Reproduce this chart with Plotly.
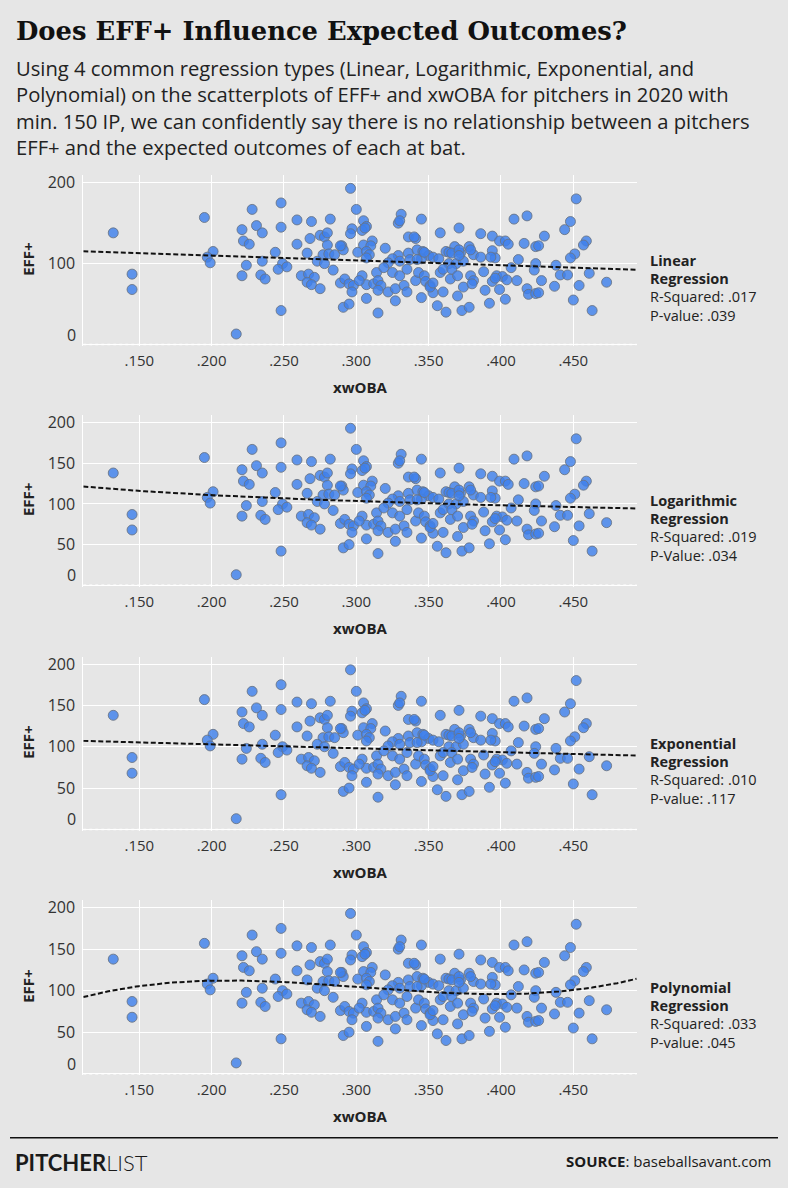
import numpy as np
import plotly.graph_objects as go

# ---------------- data ----------------
XWOBA = [0.132, 0.145, 0.145, 0.195, 0.201, 0.197, 0.199, 0.217, 0.221, 0.228,
         0.231, 0.235, 0.222, 0.226, 0.224, 0.221, 0.234, 0.237, 0.235, 0.248,
         0.248, 0.244, 0.249, 0.246, 0.252, 0.248, 0.259, 0.269, 0.282, 0.268,
         0.259, 0.266, 0.275, 0.278, 0.280, 0.280, 0.277, 0.281, 0.285, 0.290,
         0.291, 0.289, 0.273, 0.278, 0.284, 0.262, 0.267, 0.271, 0.266, 0.269,
         0.275, 0.289, 0.291, 0.295, 0.296, 0.300, 0.305, 0.307, 0.297, 0.296,
         0.304, 0.306, 0.311, 0.305, 0.310, 0.301, 0.307, 0.309, 0.307, 0.320,
         0.331, 0.329, 0.330, 0.345, 0.336, 0.341, 0.340, 0.358, 0.371, 0.329,
         0.336, 0.342, 0.346, 0.350, 0.353, 0.357, 0.362, 0.364, 0.368, 0.372,
         0.378, 0.381, 0.325, 0.322, 0.337, 0.345, 0.364, 0.369, 0.374, 0.292,
         0.295, 0.298, 0.297, 0.304, 0.307, 0.312, 0.314, 0.315, 0.317, 0.315,
         0.319, 0.325, 0.322, 0.327, 0.327, 0.330, 0.333, 0.335, 0.335, 0.341,
         0.343, 0.347, 0.348, 0.351, 0.345, 0.353, 0.358, 0.360, 0.365, 0.366,
         0.370, 0.374, 0.379, 0.381, 0.360, 0.370, 0.356, 0.362, 0.373, 0.378,
         0.315, 0.307, 0.302, 0.452, 0.409, 0.418, 0.448, 0.444, 0.386, 0.394,
         0.399, 0.403, 0.405, 0.416, 0.424, 0.426, 0.430, 0.459, 0.457, 0.451,
         0.448, 0.386, 0.394, 0.396, 0.393, 0.412, 0.424, 0.438, 0.407, 0.423,
         0.388, 0.380, 0.394, 0.397, 0.401, 0.404, 0.396, 0.411, 0.389, 0.399,
         0.392, 0.403, 0.418, 0.419, 0.424, 0.426, 0.428, 0.437, 0.441, 0.446,
         0.454, 0.461, 0.473, 0.450, 0.463, 0.330, 0.342, 0.347, 0.366, 0.351,
         0.353, 0.371, 0.371, 0.379]
EFF = [138, 87, 68, 157, 115, 108, 101, 13, 142, 167,
       147, 138, 128, 124, 98, 85, 86, 81, 103, 175,
       145, 114, 100, 93, 96, 42, 154, 152, 155, 131,
       124, 113, 135, 133, 138, 123, 111, 112, 111, 122,
       117, 122, 103, 100, 92, 85, 87, 83, 77, 74,
       69, 76, 46, 50, 193, 167, 153, 146, 143, 137,
       141, 144, 128, 123, 122, 114, 115, 111, 107, 119,
       161, 150, 153, 155, 133, 131, 133, 138, 144, 110,
       113, 117, 115, 110, 108, 106, 115, 114, 121, 113,
       121, 111, 106, 101, 105, 106, 100, 100, 103, 81,
       75, 73, 65, 85, 74, 75, 89, 79, 73, 67,
       95, 89, 65, 54, 69, 85, 73, 65, 93, 79,
       89, 85, 78, 73, 58, 64, 89, 93, 81, 93,
       85, 71, 85, 79, 65, 60, 48, 40, 42, 46,
       39, 57, 79, 180, 155, 159, 152, 142, 137, 134,
       128, 128, 124, 125, 121, 122, 134, 128, 123, 112,
       107, 108, 116, 107, 108, 105, 100, 98, 95, 92,
       90, 75, 78, 85, 84, 80, 82, 79, 67, 68,
       51, 56, 69, 62, 63, 64, 79, 72, 86, 86,
       73, 88, 77, 55, 42, 103, 105, 114, 113, 71,
       76, 117, 110, 117]

X_TICKS = [0.15, 0.20, 0.25, 0.30, 0.35, 0.40, 0.45]
X_TICK_LABELS = [".150", ".200", ".250", ".300", ".350", ".400", ".450"]
Y_TICKS_FIRST = [0, 100, 200]
Y_TICKS_OTHER = [0, 50, 100, 150, 200]

MODELS = ["Linear", "Logarithmic", "Exponential", "Polynomial"]
R_SQUARED = [".017", ".019", ".010", ".033"]
P_NAMES = ["P-value", "P-Value", "P-value", "P-value"]
P_VALUES = [".039", ".034", ".117", ".045"]

# ---------------- styling / geometry ----------------
W, H = 788, 1188
BG = "#e6e6e6"
FONT = "Open Sans"
X_RANGE = [0.1113, 0.4938]
Y_RANGE = [-2, 209]
PLOT_LEFT, PLOT_RIGHT = 83.3, 636.7
PANEL_TOPS = [172.0, 412.6, 654.8, 899.2]
PANEL_BOTTOMS = [343.3, 584.9, 829.9, 1075.0]


def px_x(p):
    return p / W


def px_y(p):
    return 1 - p / H


# ---------------- regression fits (computed from the data) ----------------
xa = np.array(XWOBA, dtype=float)
ya = np.array(EFF, dtype=float)
grid = np.linspace(X_RANGE[0], X_RANGE[1], 200)

lin = np.polyfit(xa, ya, 1)
logc = np.polyfit(np.log(xa), ya, 1)
expc = np.polyfit(xa, np.log(ya), 1)
polyc = np.polyfit(xa, ya, 3)

fits = [
    np.polyval(lin, grid),
    np.polyval(logc, np.log(grid)),
    np.exp(np.polyval(expc, grid)),
    np.polyval(polyc, grid),
]

fig = go.Figure()
annotations = []
shapes = []
layout_axes = {}

for i in range(4):
    n = "" if i == 0 else str(i + 1)
    xname, yname = "x" + n, "y" + n
    fig.add_trace(go.Scatter(
        x=XWOBA, y=EFF, mode="markers", xaxis=xname, yaxis=yname,
        marker=dict(size=10, color="rgba(62,128,236,0.82)",
                    line=dict(color="rgba(105,115,130,0.85)", width=1)),
        hoverinfo="skip", showlegend=False))
    fig.add_trace(go.Scatter(
        x=grid, y=fits[i], mode="lines", xaxis=xname, yaxis=yname,
        line=dict(color="#111111", width=2, dash="5px,2.5px"),
        hoverinfo="skip", showlegend=False))

    yticks = Y_TICKS_FIRST if i == 0 else Y_TICKS_OTHER
    layout_axes["xaxis" + n] = dict(
        domain=[px_x(PLOT_LEFT), px_x(PLOT_RIGHT)], range=X_RANGE,
        anchor=yname, tickvals=X_TICKS, ticktext=X_TICK_LABELS,
        showgrid=True, gridcolor="white", gridwidth=1, zeroline=False,
        showline=False, ticks="", ticklabelstandoff=4,
        tickfont=dict(family=FONT, size=15, color="#333333"))
    layout_axes["yaxis" + n] = dict(
        domain=[px_y(PANEL_BOTTOMS[i]), px_y(PANEL_TOPS[i])], range=Y_RANGE,
        anchor=xname, tickvals=yticks,
        ticktext=["" if v == 0 else str(v) for v in yticks],
        showgrid=True, gridcolor="white", gridwidth=1, zeroline=False,
        showline=True, linecolor="white", linewidth=1, ticks="",
        ticklabelstandoff=4,
        tickfont=dict(family=FONT, size=16, color="#333333"))

    # dotted zero line
    shapes.append(dict(type="line", xref=xname + " domain", x0=0, x1=1,
                       yref=yname, y0=0, y1=0,
                       line=dict(color="white", width=1.5, dash="dot")))
    # raised "0" label (as in the reference)
    annotations.append(dict(text="0", xref="paper", x=px_x(77.5),
                            xanchor="right", yref=yname, y=0, yshift=10,
                            showarrow=False,
                            font=dict(family=FONT, size=16, color="#333333")))
    # axis titles
    annotations.append(dict(text="<b>xwOBA</b>", xref="paper",
                            x=px_x((PLOT_LEFT + PLOT_RIGHT) / 2),
                            yref="paper", y=px_y(PANEL_BOTTOMS[i] + 41),
                            xanchor="center", yanchor="middle", showarrow=False,
                            font=dict(family=FONT, size=15, color="#222222")))
    annotations.append(dict(text="<b>EFF+</b>", xref="paper", x=px_x(28),
                            yref="paper",
                            y=px_y((PANEL_TOPS[i] + PANEL_BOTTOMS[i]) / 2 - 1),
                            xanchor="center", yanchor="middle", textangle=-90,
                            showarrow=False,
                            font=dict(family=FONT, size=15, color="#222222")))
    # right-hand regression notes
    lines = [("<b>%s</b>" % MODELS[i], 3), ("<b>Regression</b>", -15),
             ("R-Squared: %s" % R_SQUARED[i], -33),
             ("%s: %s" % (P_NAMES[i], P_VALUES[i]), -51.5)]
    for txt, shift in lines:
        annotations.append(dict(text=txt, xref="paper", x=px_x(647.5),
                                xanchor="left", yref=yname, y=100,
                                yanchor="middle", yshift=shift, showarrow=False,
                                font=dict(family=FONT, size=14.5,
                                          color="#222222")))

# header
annotations.append(dict(text="<b>Does EFF+ Influence Expected Outcomes?</b>",
                        xref="paper", yref="paper", x=px_x(14), y=px_y(27),
                        xanchor="left", yanchor="middle", showarrow=False,
                        font=dict(family="DejaVu Serif", size=25.8,
                                  color="#111111")))
SUBTITLE = [
    "Using 4 common regression types (Linear, Logarithmic, Exponential, and",
    "Polynomial) on the scatterplots of EFF+ and xwOBA for pitchers in 2020 with",
    "min. 150 IP, we can confidently say there is no relationship between a pitchers",
    "EFF+ and the expected outcomes of each at bat.",
]
for k, line in enumerate(SUBTITLE):
    annotations.append(dict(text=line, xref="paper", yref="paper",
                            x=px_x(14), y=px_y(64.5 + 26.2 * k),
                            xanchor="left", yanchor="middle", showarrow=False,
                            font=dict(family=FONT, size=20.2, color="#222222")))

# footer
shapes.append(dict(type="line", xref="paper", yref="paper",
                   x0=px_x(10), x1=px_x(778), y0=px_y(1137.5), y1=px_y(1137.5),
                   line=dict(color="#111111", width=1.5)))
annotations.append(dict(text="<b>PITCHER</b>LIST", xref="paper", yref="paper",
                        x=px_x(13), y=px_y(1162), xanchor="left",
                        yanchor="middle", showarrow=False,
                        font=dict(family="Lato", size=22, color="#1a1a1a",
                                  weight=300)))
annotations.append(dict(text="<b>SOURCE</b>: baseballsavant.com",
                        xref="paper", yref="paper", x=px_x(773), y=px_y(1161),
                        xanchor="right", yanchor="middle", showarrow=False,
                        font=dict(family=FONT, size=15, color="#1a1a1a")))

fig.update_layout(
    width=W, height=H, margin=dict(l=0, r=0, t=0, b=0),
    paper_bgcolor=BG, plot_bgcolor=BG,
    annotations=annotations, shapes=shapes, showlegend=False,
    **layout_axes)

fig.write_html(
    "out.html",
    config={"displayModeBar": False},
    post_script="document.body.style.margin='0';"
                "document.body.style.overflow='hidden';")
